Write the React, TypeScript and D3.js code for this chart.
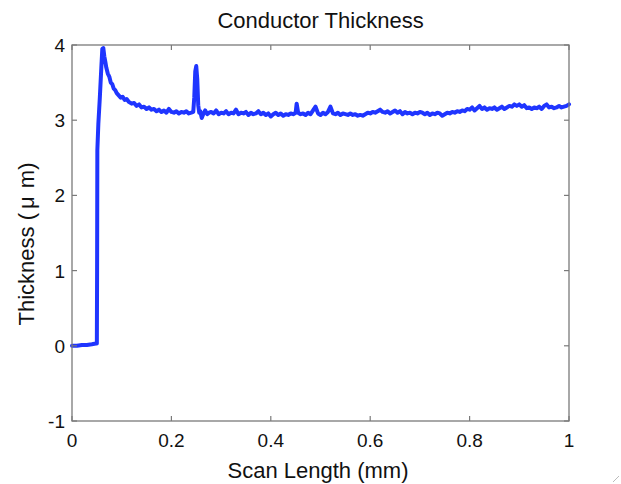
import React from "react";
import * as d3 from "d3";

const scanX = [0,0.01,0.02,0.03,0.04,0.048,0.05,0.0505,0.051,0.053,0.056,0.059,0.061,0.063,0.065,0.067,0.069,0.072,0.075,0.078,0.081,0.084,0.087,0.09,0.094,0.098,0.102,0.106,0.11,0.115,0.12,0.125,0.13,0.135,0.14,0.145,0.15,0.155,0.16,0.165,0.17,0.175,0.18,0.185,0.19,0.195,0.2,0.205,0.21,0.215,0.22,0.225,0.23,0.235,0.24,0.244,0.246,0.248,0.25,0.252,0.254,0.256,0.258,0.261,0.264,0.268,0.272,0.276,0.28,0.285,0.29,0.295,0.3,0.305,0.31,0.315,0.32,0.325,0.33,0.335,0.34,0.345,0.35,0.355,0.36,0.365,0.37,0.375,0.38,0.385,0.39,0.395,0.4,0.405,0.41,0.415,0.42,0.425,0.43,0.435,0.44,0.445,0.45,0.452,0.455,0.46,0.465,0.47,0.475,0.48,0.485,0.49,0.495,0.5,0.505,0.51,0.515,0.52,0.525,0.53,0.535,0.54,0.545,0.55,0.555,0.56,0.565,0.57,0.575,0.58,0.585,0.59,0.595,0.6,0.605,0.61,0.615,0.62,0.625,0.63,0.635,0.64,0.645,0.65,0.655,0.66,0.665,0.67,0.675,0.68,0.685,0.69,0.695,0.7,0.705,0.71,0.715,0.72,0.725,0.73,0.735,0.74,0.745,0.75,0.755,0.76,0.765,0.77,0.775,0.78,0.785,0.79,0.795,0.8,0.805,0.81,0.815,0.82,0.825,0.83,0.835,0.84,0.845,0.85,0.855,0.86,0.865,0.87,0.875,0.88,0.885,0.89,0.895,0.9,0.905,0.91,0.915,0.92,0.925,0.93,0.935,0.94,0.945,0.95,0.955,0.96,0.965,0.97,0.975,0.98,0.985,0.99,0.995,1];

const thickness = [0,0,0.01,0.01,0.02,0.03,0.03,1.0,2.6,2.95,3.3,3.7,3.95,3.96,3.85,3.78,3.7,3.62,3.58,3.5,3.48,3.42,3.4,3.36,3.33,3.3,3.31,3.27,3.28,3.24,3.22,3.23,3.19,3.21,3.17,3.18,3.15,3.17,3.14,3.15,3.12,3.14,3.11,3.13,3.1,3.15,3.11,3.1,3.12,3.09,3.11,3.1,3.12,3.09,3.1,3.11,3.3,3.65,3.72,3.55,3.2,3.1,3.12,3.03,3.08,3.13,3.08,3.1,3.11,3.09,3.13,3.08,3.1,3.09,3.12,3.08,3.1,3.09,3.14,3.08,3.1,3.09,3.11,3.07,3.1,3.08,3.09,3.12,3.08,3.1,3.07,3.09,3.05,3.08,3.1,3.07,3.09,3.06,3.08,3.07,3.09,3.08,3.1,3.22,3.1,3.08,3.09,3.07,3.1,3.08,3.13,3.18,3.09,3.07,3.1,3.08,3.11,3.18,3.09,3.08,3.1,3.07,3.09,3.08,3.07,3.09,3.07,3.08,3.06,3.07,3.06,3.08,3.1,3.09,3.11,3.1,3.12,3.14,3.11,3.1,3.12,3.09,3.11,3.13,3.1,3.12,3.08,3.11,3.09,3.1,3.08,3.1,3.09,3.11,3.1,3.08,3.1,3.07,3.09,3.08,3.1,3.09,3.06,3.08,3.1,3.09,3.11,3.1,3.12,3.11,3.13,3.12,3.15,3.14,3.17,3.13,3.16,3.19,3.15,3.17,3.14,3.16,3.15,3.17,3.14,3.16,3.18,3.15,3.17,3.19,3.18,3.21,3.19,3.21,3.18,3.2,3.16,3.17,3.15,3.17,3.16,3.18,3.15,3.19,3.21,3.17,3.18,3.16,3.17,3.19,3.17,3.18,3.19,3.21];

const xTicks = [0, 0.2, 0.4, 0.6, 0.8, 1];
const yTicks = [-1, 0, 1, 2, 3, 4];
const title = "Conductor Thickness";
const xLabel = "Scan Length (mm)";
const yLabelMain = "Thickness (";
const yLabelMu = "\u03bc";
const yLabelUnit = " m)";

export default function App() {
  const W = 621, H = 484;
  const L = 72, R = 569, T = 45, B = 421;
  const x = d3.scaleLinear().domain([0, 1]).range([L, R]);
  const y = d3.scaleLinear().domain([-1, 4]).range([B, T]);
  const pts: [number, number][] = scanX.map((v, i) => [v, thickness[i]]);
  const line = d3.line<[number, number]>().x(d => x(d[0])).y(d => y(d[1]));
  const axisColor = "#7a7a7a";
  const font = "Liberation Sans, Arial, Helvetica, sans-serif";
  const tl = 5;
  return (
    <svg width={W} height={H} style={{ position: "absolute", left: 0, top: 0, background: "#fff" }} fontFamily={font}>
      <rect x={0} y={0} width={W} height={H} fill="#fff" />
      <path d={line(pts) || ""} fill="none" stroke="#1f35ff" strokeWidth={4} strokeLinejoin="round" strokeLinecap="round" />
      <rect x={L} y={T} width={R - L} height={B - T} fill="none" stroke={axisColor} strokeWidth={1.3} />
      {xTicks.map(t => (
        <g key={"x" + t}>
          <line x1={x(t)} x2={x(t)} y1={B} y2={B - tl} stroke={axisColor} strokeWidth={1.2} />
          <line x1={x(t)} x2={x(t)} y1={T} y2={T + tl} stroke={axisColor} strokeWidth={1.2} />
          <text x={x(t)} y={447} textAnchor="middle" fontSize={19} fill="#111">{String(t)}</text>
        </g>
      ))}
      {yTicks.map(t => (
        <g key={"y" + t}>
          <line x1={L} x2={L + tl} y1={y(t)} y2={y(t)} stroke={axisColor} strokeWidth={1.2} />
          <line x1={R} x2={R - tl} y1={y(t)} y2={y(t)} stroke={axisColor} strokeWidth={1.2} />
          <text x={65} y={y(t) + 7} textAnchor="end" fontSize={19} fill="#111">{String(t)}</text>
        </g>
      ))}
      <text x={(L + R) / 2} y={28} textAnchor="middle" fontSize={22} fill="#111">{title}</text>
      <text x={318} y={478} textAnchor="middle" fontSize={22} fill="#111">{xLabel}</text>
      <text transform={`translate(34,244) rotate(-90)`} textAnchor="middle" fontSize={22} fill="#111">
        <tspan>{yLabelMain}</tspan>
        <tspan dx={4}>{yLabelMu}</tspan>
        <tspan dx={2}>{yLabelUnit}</tspan>
      </text>
      <line x1={613} y1={482} x2={619} y2={476} stroke="#bbb" strokeWidth={1} />
    </svg>
  );
}
